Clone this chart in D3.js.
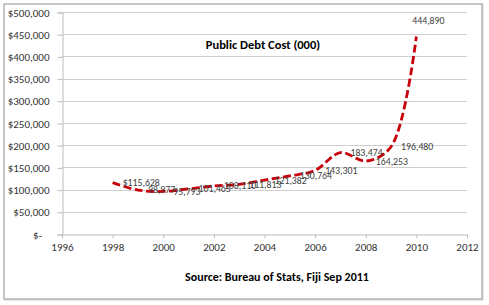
<!DOCTYPE html>
<html><head><meta charset="utf-8">
<script src="https://cdn.jsdelivr.net/npm/d3@7"></script>
<style>
html,body{margin:0;padding:0;background:#fff;}
svg{display:block;}
</style></head>
<body>
<svg id="c" width="489" height="305"></svg>
<script>
const years = [1998,1999,2000,2001,2002,2003,2004,2005,2006,2007,2008,2009,2010];
const values = [115628,98977,95793,101465,108110,111813,121382,130764,143301,183474,164253,196480,444890];
const pointLabels = ["$115,628","98,977","95,793","101,465","108,110","111,813","121,382","130,764","143,301","183,474","164,253","196,480","444,890"];
const yTicks = [0,50000,100000,150000,200000,250000,300000,350000,400000,450000,500000];
const xTicks = [1996,1998,2000,2002,2004,2006,2008,2010,2012];
const title = "Public Debt Cost (000)";
const source = "Source: Bureau of Stats, Fiji Sep 2011";

const svg = d3.select("#c");
const font = "Carlito, Lato, 'Open Sans', sans-serif";

// outer chart border
svg.append("rect").attr("x",5).attr("y",5).attr("width",478).attr("height",295)
  .attr("fill","none").attr("stroke","#d0d0d0").attr("stroke-width",1);
svg.append("rect").attr("x",4).attr("y",4).attr("width",478).attr("height",295)
  .attr("fill","#fff").attr("stroke","#b4b4b4").attr("stroke-width",1.5);

const x = d3.scaleLinear().domain([1996,2012]).range([62,467]);
const y = d3.scaleLinear().domain([0,500000]).range([234,12]);

// gridlines
svg.append("g").selectAll("line").data(yTicks.slice(1)).join("line")
  .attr("x1",x(1996)).attr("x2",x(2012))
  .attr("y1",d=>Math.round(y(d))+0.5).attr("y2",d=>Math.round(y(d))+0.5)
  .attr("stroke","#cfcfcf").attr("stroke-width",1.2);

// y axis
const yAxis = d3.axisLeft(y).tickValues(yTicks).tickSize(5).tickPadding(8)
  .tickFormat(d => d===0 ? "$-   " : "$" + d3.format(",")(d));
const gy = svg.append("g").attr("transform",`translate(${x(1996)+0.5},0.5)`).call(yAxis);
gy.select(".domain").attr("stroke","#bdbdbd");
gy.selectAll(".tick line").attr("stroke","#bdbdbd");
gy.selectAll("text").attr("font-family",font).attr("font-size",11).attr("fill","#333")
  .attr("xml:space","preserve").style("white-space","pre");

// x axis
const xAxis = d3.axisBottom(x).tickValues(xTicks).tickSize(4).tickPadding(5).tickFormat(d3.format("d"));
const gx = svg.append("g").attr("transform",`translate(0,${Math.round(y(0))+0.5})`).call(xAxis);
gx.select(".domain").attr("stroke","#bdbdbd");
gx.selectAll(".tick line").attr("stroke","#bdbdbd");
gx.selectAll("text").attr("font-family",font).attr("font-size",11).attr("fill","#333");

// line
const pts = years.map((yr,i)=>({yr, v:values[i], lab:pointLabels[i]}));
const line = d3.line().x(d=>x(d.yr)).y(d=>y(d.v)).curve(d3.curveCatmullRom.alpha(0.5));
svg.append("path").datum(pts).attr("d",line).attr("fill","none")
  .attr("stroke","#c8000a").attr("stroke-width",2.8).attr("stroke-dasharray","8,3.5");

// data labels
svg.append("g").selectAll("text").data(pts).join("text")
  .attr("x",d=> d.yr===2010 ? x(d.yr)+12 : x(d.yr)+10)
  .attr("y",d=> d.yr===2010 ? y(d.v)-16 : y(d.v))
  .attr("dy","0.35em")
  .attr("text-anchor",d=> d.yr===2010 ? "middle" : "start")
  .attr("font-family",font).attr("font-size",9.8).attr("fill","#404040")
  .text(d=>d.lab);

// title
svg.append("text").attr("x",263).attr("y",45).attr("dy","0.35em").attr("text-anchor","middle")
  .attr("font-family",font).attr("font-size",12.5).attr("font-weight","bold").attr("fill","#000")
  .text(title);
svg.append("text").attr("x",277).attr("y",277).attr("dy","0.35em").attr("text-anchor","middle")
  .attr("font-family",font).attr("font-size",12).attr("font-weight","bold").attr("fill","#000")
  .text(source);
</script>
</body></html>
